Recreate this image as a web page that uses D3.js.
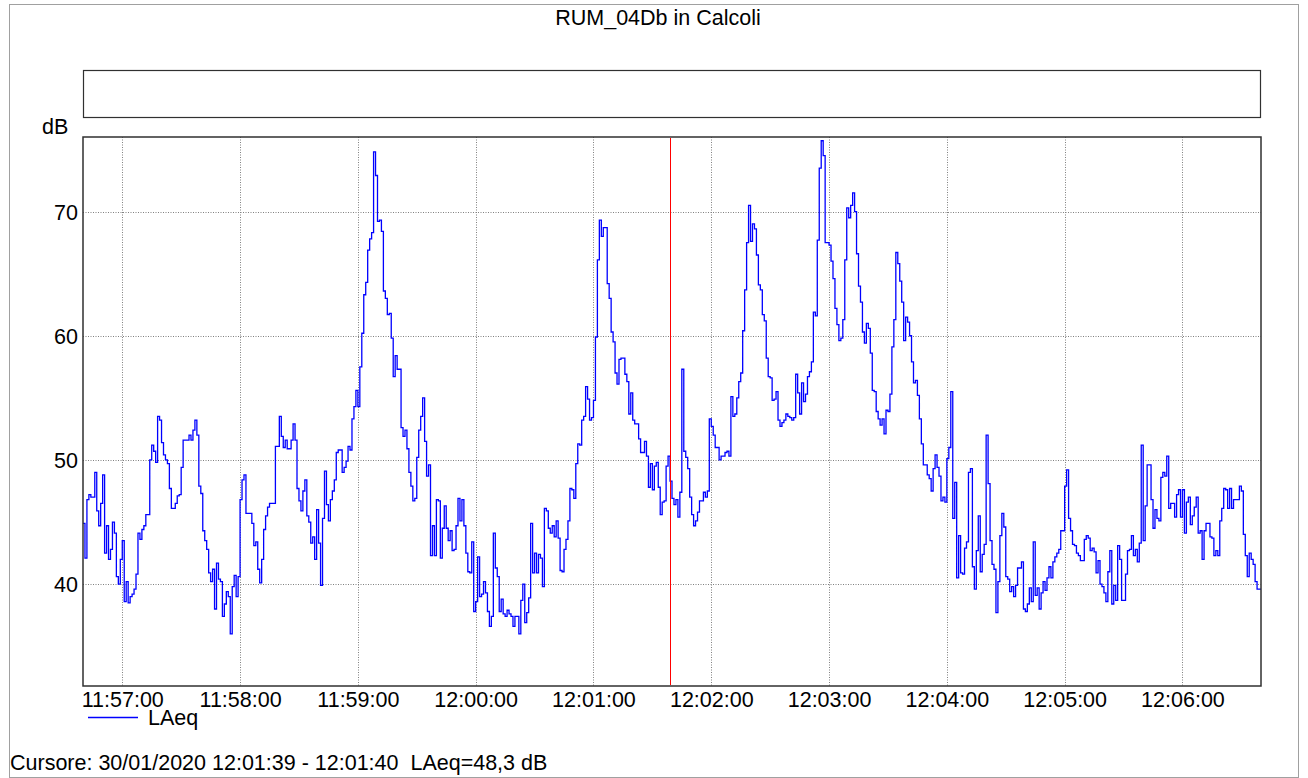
<!DOCTYPE html>
<html>
<head>
<meta charset="utf-8">
<script src="https://cdn.jsdelivr.net/npm/d3@7"></script>
<style>
  html, body { margin: 0; padding: 0; background: #fff; }
  svg { display: block; font-family: "Liberation Sans", Arial, sans-serif; }
  text { white-space: pre; }
</style>
</head>
<body>
<svg id="chart" width="1308" height="778"></svg>
<script>
// ---- data ----
const title = "RUM_04Db in Calcoli";
const seriesName = "LAeq";
const yUnit = "dB";
const startTime = "2020-01-30T11:56:40";
const endTime = "2020-01-30T12:06:40";
const cursorTime = "2020-01-30T12:01:39";
const cursorText = "Cursore: 30/01/2020 12:01:39 - 12:01:40  LAeq=48,3 dB";
const yTicks = [40, 50, 60, 70];
const xTickLabels = ["11:57:00","11:58:00","11:59:00","12:00:00","12:01:00","12:02:00","12:03:00","12:04:00","12:05:00","12:06:00"];
// LAeq, one value per second from 11:56:40
const laeq = [
44.9,42.1,46.8,47.2,47.0,47.0,49.0,45.9,44.7,46.5,
48.8,42.5,44.7,42.0,42.8,45.0,44.1,40.6,40.0,42.0,
43.5,38.6,40.2,38.5,39.0,39.2,39.6,40.8,44.1,43.6,
44.4,44.7,45.6,45.6,50.0,51.2,50.7,49.8,53.5,53.2,
51.4,50.4,50.0,49.7,47.7,46.1,46.1,46.5,47.1,47.2,
49.4,51.6,51.6,51.6,52.0,51.6,52.4,53.2,52.0,47.9,
47.3,44.3,43.5,42.8,40.9,40.2,41.2,38.0,41.7,40.4,
40.2,37.4,38.4,39.4,39.0,36.0,39.8,40.7,39.0,40.6,
46.8,48.4,48.8,45.7,45.7,45.7,44.9,43.1,43.4,41.2,
40.1,42.0,44.4,45.5,46.2,46.5,46.5,46.5,51.1,51.1,
53.5,51.9,51.0,51.6,50.9,50.9,51.6,52.9,51.6,47.7,
46.7,45.9,47.5,48.4,45.5,45.0,43.3,43.8,42.0,46.0,
43.3,39.9,45.3,49.1,46.4,45.1,46.8,47.5,48.4,50.6,
50.8,50.8,49.0,49.4,49.9,51.1,50.8,53.3,54.3,55.6,
54.3,57.5,60.2,63.3,64.3,66.9,67.8,68.3,74.8,72.9,
69.2,69.3,68.4,63.6,63.0,61.7,61.8,59.8,56.7,58.4,
57.3,57.3,52.6,51.9,52.4,50.9,49.0,47.9,46.7,46.9,
50.2,52.4,53.5,55.0,51.5,48.7,49.6,42.3,44.7,42.3,
46.8,46.7,42.1,44.5,46.3,44.5,43.5,44.3,42.7,42.8,
44.7,46.9,45.1,46.8,44.7,42.5,41.0,40.9,43.4,37.8,
38.6,42.2,39.0,39.2,40.2,39.3,37.8,36.6,37.4,44.1,
41.3,40.6,37.8,38.8,37.6,37.4,37.9,37.6,37.4,36.6,
37.4,37.4,36.0,38.7,40.0,36.9,37.7,38.9,44.9,40.9,
42.5,40.9,42.4,42.1,39.8,46.1,45.9,44.5,44.1,44.7,
43.8,45.1,43.7,41.1,41.0,42.8,43.6,45.1,47.7,47.6,
46.9,49.7,51.3,51.2,53.2,53.5,55.9,54.9,53.2,53.4,
54.8,59.9,66.1,69.3,68.0,68.7,68.7,64.2,63.0,60.3,
59.5,57.0,56.1,58.1,58.2,58.2,56.9,56.3,53.7,55.4,
53.2,52.9,52.9,51.7,50.6,50.6,51.5,50.3,47.8,49.7,
47.6,49.5,49.8,47.8,45.6,46.6,46.7,49.5,50.3,48.3,
46.9,46.4,46.8,45.4,47.4,57.3,50.7,50.2,49.3,47.0,
45.6,44.7,45.1,45.8,46.7,46.7,47.4,47.0,47.5,53.3,
52.7,52.0,51.0,51.0,50.0,50.3,50.3,50.6,50.7,50.3,
55.1,53.5,53.7,55.0,56.3,57.0,60.4,63.7,67.5,70.5,
67.6,69.0,68.6,66.5,64.1,63.7,61.7,61.2,58.2,56.7,
56.6,54.8,54.9,55.5,53.2,52.7,53.0,53.2,53.7,53.5,
53.4,53.2,53.4,56.9,55.4,53.7,56.2,54.7,55.3,56.7,
57.1,57.9,61.9,61.6,67.7,73.5,75.7,74.5,67.5,67.5,
67.3,66.0,64.6,62.2,60.9,59.6,59.8,61.3,66.1,70.3,
69.5,70.5,71.5,70.0,66.6,64.0,62.7,60.3,59.4,61.0,
60.6,58.6,55.6,55.5,53.9,53.3,52.8,53.3,52.1,54.0,
53.9,55.3,59.1,61.3,66.7,65.8,64.4,62.7,59.6,61.5,
61.1,60.0,57.9,56.2,56.4,55.2,53.3,51.3,49.6,49.6,
48.8,48.5,47.5,49.3,50.4,49.4,48.7,46.7,47.0,46.6,
50.1,51.0,55.5,45.3,48.2,40.5,43.9,40.9,40.8,42.9,
43.4,49.0,49.3,41.4,39.6,42.7,45.5,41.0,42.4,43.2,
52.0,48.1,43.5,41.6,41.2,37.7,40.2,43.9,45.7,44.6,
40.6,40.4,39.4,39.8,39.0,39.9,41.3,41.3,41.8,38.0,
37.8,38.4,39.7,38.6,43.4,39.1,39.7,38.0,39.3,40.2,
39.5,40.5,41.4,40.5,41.8,42.2,42.5,42.8,44.3,44.3,
47.9,49.2,45.3,44.3,43.2,43.1,42.5,42.3,41.9,41.9,
43.6,43.9,43.7,42.7,42.9,42.6,40.9,41.9,40.0,39.8,
39.3,38.6,41.0,42.7,38.4,39.9,38.7,43.1,42.0,38.7,
38.7,40.8,42.7,42.8,43.9,42.3,42.8,41.8,43.3,51.2,
43.5,46.3,49.6,49.6,46.8,44.5,46.0,45.3,45.1,48.6,
49.0,48.7,50.3,46.1,46.5,46.5,45.4,47.2,47.6,45.4,
47.6,44.1,46.6,47.0,44.8,45.5,46.2,47.0,44.1,44.3,
42.0,44.3,44.9,44.9,43.8,43.7,42.3,42.7,42.3,45.1,
46.1,47.7,47.6,46.1,47.7,46.1,46.8,46.8,46.8,47.9,
47.5,44.0,42.3,40.6,42.5,42.0,41.6,40.2,39.6,39.6
];

// ---- layout ----
const W = 1308, H = 778;
const FS = 21.5;
const plot = { left: 83, top: 137, right: 1261, bottom: 686 };
const svg = d3.select("#chart");
const parse = d3.timeParse("%Y-%m-%dT%H:%M:%S");
const t0 = parse(startTime), t1 = parse(endTime);

const times = laeq.map((v, i) => d3.timeSecond.offset(t0, i));
const data = laeq.map((v, i) => ({ t: times[i], v }));
data.push({ t: d3.timeSecond.offset(t0, laeq.length), v: laeq[laeq.length - 1] });

const x = d3.scaleTime().domain([t0, t1]).range([plot.left, plot.right]);
const y = d3.scaleLinear().domain([31.8, 76.0]).range([plot.bottom, plot.top]);

// outer frame
svg.append("rect").attr("x", 9.5).attr("y", 4.5).attr("width", W - 19).attr("height", H - 5)
  .attr("fill", "none").attr("stroke", "#a0a0a0").attr("stroke-width", 1);

// title
svg.append("text").attr("x", 658).attr("y", 25).attr("text-anchor", "middle")
  .attr("font-size", FS).attr("fill", "#000").text(title);

// empty box
svg.append("rect").attr("x", 83.5).attr("y", 70.5).attr("width", 1177).attr("height", 47)
  .attr("fill", "none").attr("stroke", "#303030").attr("stroke-width", 1.2);

// y unit
svg.append("text").attr("x", 42).attr("y", 134).attr("font-size", FS).attr("fill", "#000").text(yUnit);

// grid
const xTickDates = xTickLabels.map(s => parse("2020-01-30T" + s));
const g = svg.append("g");
g.selectAll("line.gx").data(xTickDates).join("line").attr("class", "gx")
  .attr("x1", d => Math.round(x(d)) + 0.5).attr("x2", d => Math.round(x(d)) + 0.5)
  .attr("y1", plot.top).attr("y2", plot.bottom)
  .attr("stroke", "#808080").attr("stroke-width", 1).attr("stroke-dasharray", "1,1.5");
g.selectAll("line.gy").data(yTicks).join("line").attr("class", "gy")
  .attr("x1", plot.left).attr("x2", plot.right)
  .attr("y1", d => Math.round(y(d)) + 0.5).attr("y2", d => Math.round(y(d)) + 0.5)
  .attr("stroke", "#808080").attr("stroke-width", 1).attr("stroke-dasharray", "1,1.5");

// axes labels
const yAxis = d3.axisLeft(y).tickValues(yTicks).tickSize(0).tickPadding(3).tickFormat(d3.format("d"));
const ya = svg.append("g").attr("transform", `translate(${plot.left - 2},0)`).call(yAxis);
ya.select(".domain").remove();
ya.selectAll("text").attr("font-size", FS).attr("font-family", "Liberation Sans, Arial, sans-serif").attr("fill", "#000").attr("dy", "0.36em");

const fmt = d3.timeFormat("%H:%M:%S");
const xAxis = d3.axisBottom(x).tickValues(xTickDates).tickSize(0).tickPadding(6).tickFormat(fmt);
const xa = svg.append("g").attr("transform", `translate(0,${plot.bottom})`).call(xAxis);
xa.select(".domain").remove();
xa.selectAll("text").attr("font-size", FS).attr("font-family", "Liberation Sans, Arial, sans-serif").attr("fill", "#000");

// series
const line = d3.line().x(d => x(d.t)).y(d => y(d.v)).curve(d3.curveStepAfter);
svg.append("defs").append("clipPath").attr("id", "clip").append("rect")
  .attr("x", plot.left).attr("y", plot.top).attr("width", plot.right - plot.left).attr("height", plot.bottom - plot.top);
svg.append("path").datum(data).attr("d", line).attr("fill", "none")
  .attr("stroke", "#0000ff").attr("stroke-width", 1.3).attr("clip-path", "url(#clip)");

// plot frame
svg.append("rect").attr("x", plot.left).attr("y", plot.top)
  .attr("width", plot.right - plot.left).attr("height", plot.bottom - plot.top)
  .attr("fill", "none").attr("stroke", "#303030").attr("stroke-width", 1.5);

// cursor
const ct = parse(cursorTime);
svg.append("line").attr("x1", Math.round(x(ct)) + 0.5).attr("x2", Math.round(x(ct)) + 0.5)
  .attr("y1", plot.top + 1).attr("y2", plot.bottom - 1)
  .attr("stroke", "#ff0000").attr("stroke-width", 1);

// legend
svg.append("line").attr("x1", 88).attr("x2", 138).attr("y1", 717.5).attr("y2", 717.5)
  .attr("stroke", "#0000ff").attr("stroke-width", 1.3);
svg.append("text").attr("x", 148).attr("y", 725).attr("font-size", FS).attr("fill", "#000").text(seriesName);

// cursor text
svg.append("text").attr("x", 10).attr("y", 770).attr("font-size", FS).attr("fill", "#000").text(cursorText);
</script>
</body>
</html>
